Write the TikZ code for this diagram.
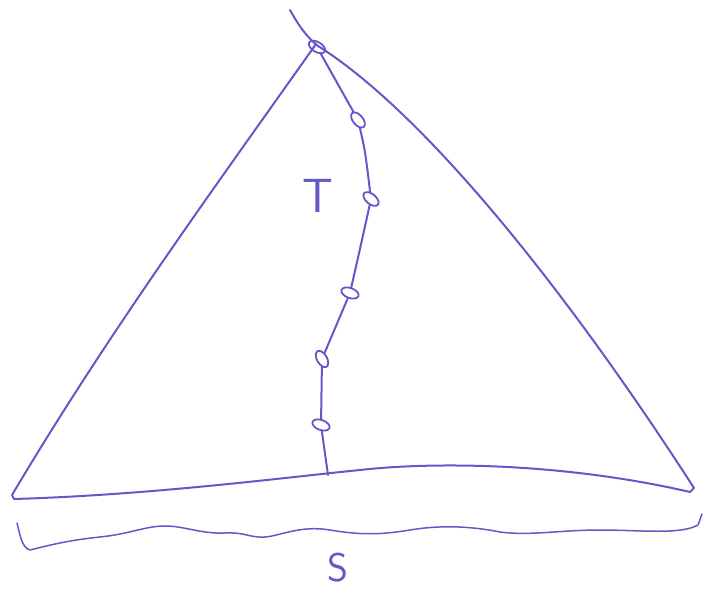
\documentclass[tikz,border=0pt]{standalone}
\usepackage{fontspec}
\setmainfont{DejaVu Sans}
\usetikzlibrary{shapes.geometric}
\definecolor{ink}{RGB}{98,88,200}
\begin{document}
\begin{tikzpicture}[x=1pt,y=-1pt,
  pen/.style={draw=ink,line width=2pt,line cap=round,line join=round},
  bead/.style={ellipse,draw=ink,line width=1.8pt,minimum width=18pt,minimum height=10pt,inner sep=0pt},
  lab/.style={text=ink,font=\fontsize{48}{48}\selectfont\sffamily\mdseries}]
\useasboundingbox (0,0) rectangle (705,594);
% triangle sides
\draw[pen] (290,10) .. controls (300,28) and (308,38) .. (318,46)
  .. controls (420,110) and (560,280) .. (694,488) -- (690,492);
\draw[pen] (316,44) .. controls (220,180) and (110,330) .. (12,495) -- (14,499);
\draw[pen] (14,499) .. controls (150,495) and (280,478) .. (360,470)
  .. controls (430,462) and (560,462) .. (690,492);
% beads
\node[bead,rotate=-30] (b0) at (317,47) {};
\node[bead,rotate=-50] (b1) at (358,120) {};
\node[bead,rotate=-40] (b2) at (371,199) {};
\node[bead,rotate=-20] (b3) at (350,293) {};
\node[bead,rotate=-60] (b4) at (322,359) {};
\node[bead,rotate=-20] (b5) at (321,425) {};
\coordinate (foot) at (328,475);
\draw[pen] (b0) -- (b1);
\draw[pen] (b1) .. controls (365,150) .. (b2);
\draw[pen] (b2) .. controls (362,240) .. (b3);
\draw[pen] (b3) -- (b4);
\draw[pen] (b4) -- (b5);
\draw[pen] (b5) -- (foot);
% labels
\node[lab] (T) at (318,196) {T};
% wavy line
\draw[pen,line width=1.5pt] (17,523) .. controls (20,535) and (22,548) .. (30,550)
  .. controls (50,545) and (70,540) .. (100,537)
  .. controls (130,534) and (145,526) .. (165,526)
  .. controls (185,526) and (200,534) .. (225,533)
  .. controls (245,532) and (250,538) .. (265,537)
  .. controls (280,536) and (300,525) .. (330,530)
  .. controls (360,535) and (380,535) .. (410,530)
  .. controls (440,525) and (470,526) .. (500,532)
  .. controls (530,536) and (560,530) .. (600,530)
  .. controls (640,530) and (680,535) .. (698,525)
  -- (702,514);
\node[lab,font=\fontsize{40}{40}\selectfont\sffamily] (S) at (338,568) {S};
\end{tikzpicture}
\end{document}
